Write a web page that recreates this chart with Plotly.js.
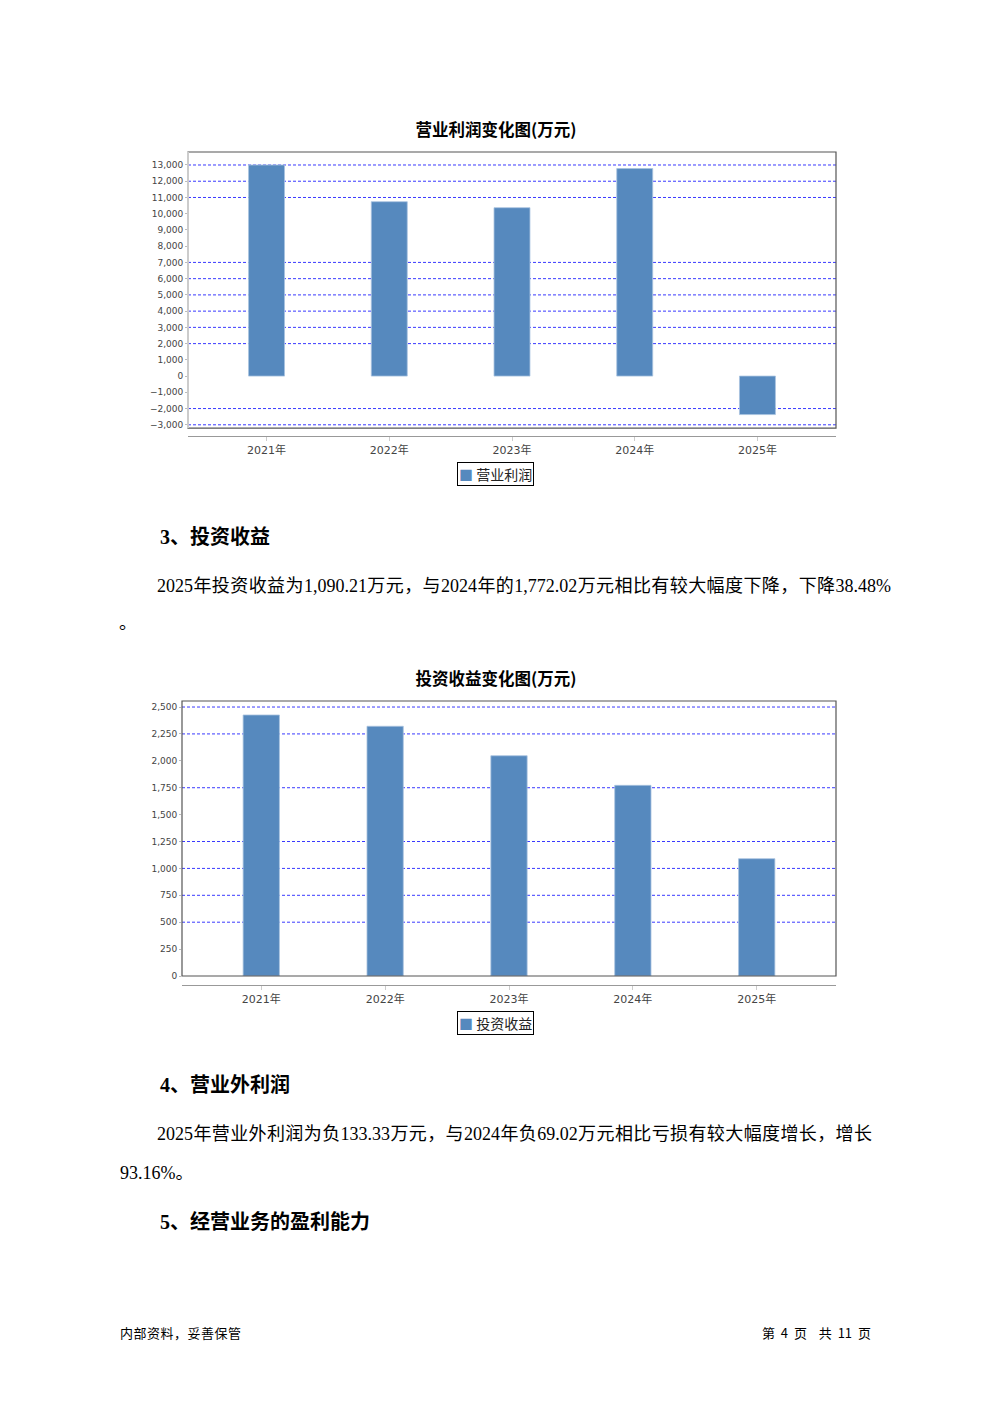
<!DOCTYPE html>
<html><head><meta charset="utf-8">
<script src="https://cdn.plot.ly/plotly-3.0.1.min.js"></script>
<style>
body{margin:0;width:992px;height:1403px;background:#fff;position:relative;overflow:hidden;
 font-family:"Liberation Serif","Noto Sans CJK SC",serif;color:#000;}
.abs{position:absolute;white-space:nowrap;}
.h{font-family:"Liberation Serif","Noto Sans CJK SC",serif;font-weight:bold;font-size:20px;line-height:24px;}
.p{font-size:18px;line-height:24px;}
.j{white-space:normal;text-align:justify;text-align-last:justify;}
.f{font-family:"Noto Sans CJK SC",sans-serif;font-size:13px;line-height:16px;}
.chart{position:absolute;left:0;width:992px;height:400px;}
</style></head><body>

<div id="c1" class="chart" style="top:100px"></div>
<div class="abs h" style="left:160px;top:525px">3、投资收益</div>
<div class="abs p j" style="left:157px;top:574px;width:734px">2025年投资收益为1,090.21万元，与2024年的1,772.02万元相比有较大幅度下降，下降38.48%</div>
<div class="abs p" style="left:119px;top:611px">。</div>
<div id="c2" class="chart" style="top:650px"></div>
<div class="abs h" style="left:160px;top:1073px">4、营业外利润</div>
<div class="abs p j" style="left:157px;top:1122px;width:715px">2025年营业外利润为负133.33万元，与2024年负69.02万元相比亏损有较大幅度增长，增长</div>
<div class="abs p" style="left:120px;top:1161px">93.16%。</div>
<div class="abs h" style="left:160px;top:1210px">5、经营业务的盈利能力</div>
<div class="abs f" style="left:120px;top:1325px;letter-spacing:0.5px">内部资料，妥善保管</div>
<div class="abs f" style="right:121px;top:1325px;word-spacing:3px">第 4 页&nbsp;&nbsp;共 11 页</div>

<script>
// ---- data ----
const years = ["2021年", "2022年", "2023年", "2024年", "2025年"];
const opProfit = [13000, 10740, 10370, 12780, -2370];
const opProfitName = "营业利润";
const opProfitTitle = "营业利润变化图(万元)";
const invIncome = [2426, 2321, 2047, 1772.02, 1090.21];
const invIncomeName = "投资收益";
const invIncomeTitle = "投资收益变化图(万元)";
// gridlines visible in the reference (others are absent)
const grid1 = [13000, 12000, 11000, 7000, 6000, 5000, 4000, 3000, 2000, -2000, -3000];
const grid2 = [2500, 2250, 1750, 1250, 1000, 750, 500];

const BAR = "#5689be";
const tickFont = {family: "DejaVu Sans, Noto Sans CJK SC", size: 9, color: "#444"};
const xFont = {family: "DejaVu Sans, Noto Sans CJK SC", size: 11, color: "#444"};

function gridShapes(vals) {
  return vals.map(v => ({type: "line", xref: "x domain", yref: "y", x0: 0, x1: 1, y0: v, y1: v,
    line: {color: "#3a3aff", width: 1, dash: "3px,2px"}, layer: "below"}));
}

function build(div, title, name, vals, yr, dtick, grid, m, ydom, legX, leftLight) {
  const shapes = gridShapes(grid);
  shapes.push({type: "rect", xref: "x domain", yref: "y domain", x0: 0, x1: 1, y0: 0, y1: 1,
    line: {color: "#555", width: 1.2}, layer: "above"});
  if (leftLight) shapes.push({type: "line", xref: "x domain", yref: "y domain", x0: 0, x1: 0, y0: 0, y1: 1,
    line: {color: "#ccc", width: 2}, layer: "above"});
  const trace = {type: "bar", x: years, y: vals, name: name, width: 0.293,
    marker: {color: BAR, line: {color: "#a8c3df", width: 0.8}}, showlegend: false};
  const layout = {
    width: 992, height: 400, paper_bgcolor: "rgba(0,0,0,0)", plot_bgcolor: "#fff",
    margin: {l: m.l, r: m.r, t: m.t, b: m.b, autoexpand: false},
    title: {text: title, x: 0.5, xref: "container", xanchor: "center", y: m.ty, yref: "container", yanchor: "middle",
      font: {family: "Noto Sans CJK SC, sans-serif", size: 16.5, weight: "bold", color: "#000"}},
    xaxis: {type: "category", range: [-0.64, 4.64], anchor: "free", position: 0,
      showline: true, linecolor: "#999", linewidth: 1, showgrid: false, zeroline: false,
      ticks: "outside", ticklen: 4, tickcolor: "#ccc", tickfont: xFont, fixedrange: true},
    yaxis: {domain: [ydom, 1], range: yr, dtick: dtick, tickformat: ",d", showgrid: false, zeroline: false,
      showline: false, ticks: "outside", ticklen: 2, tickcolor: "#bbb", tickfont: tickFont, fixedrange: true},
    shapes: shapes,
    showlegend: false,
    annotations: [{
      text: "<span style='color:" + BAR + "'>■</span> " + name,
      xref: "paper", yref: "paper", x: legX, y: -0.09, xanchor: "center", yanchor: "top",
      showarrow: false, bordercolor: "#000", borderwidth: 1, borderpad: 1, bgcolor: "#fff",
      font: {family: "Noto Sans CJK SC, sans-serif", size: 14, color: "#222"}
    }],
    bargap: 0.7
  };
  Plotly.newPlot(div, [trace], layout, {displayModeBar: false, staticPlot: true});
}

build("c1", opProfitTitle, opProfitName, opProfit, [-3200, 13800], 1000, grid1,
  {l: 188, r: 156, t: 52, b: 64, ty: 0.925}, 0.028, 0.475, true);
build("c2", invIncomeTitle, invIncomeName, invIncome, [0, 2556], 250, grid2,
  {l: 182, r: 156, t: 51, b: 65, ty: 0.9275}, 0.0317, 0.48, false);
</script>
</body></html>
